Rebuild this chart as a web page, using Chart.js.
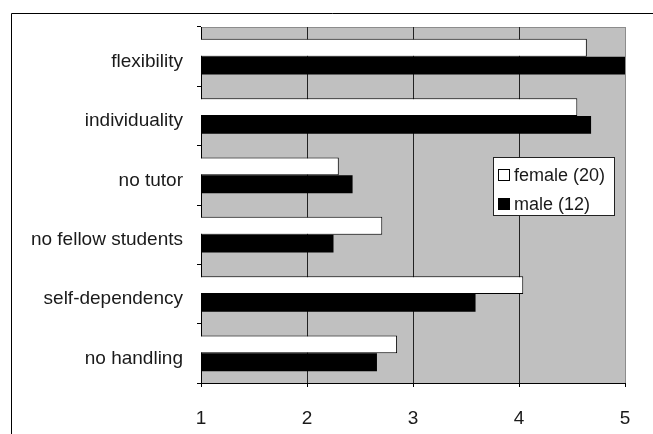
<!DOCTYPE html>
<html>
<head>
<meta charset="utf-8">
<script src="https://cdn.jsdelivr.net/npm/chart.js@4/dist/chart.umd.min.js"></script>
<style>
  html, body { margin: 0; padding: 0; background: #fff; }
  canvas { display: block; }
</style>
</head>
<body>
<canvas id="c" width="653" height="434"></canvas>
<script>
// Mean ratings per aspect, split by gender
const categories = ['flexibility', 'individuality', 'no tutor', 'no fellow students', 'self-dependency', 'no handling'];
const female = [4.64, 4.55, 2.30, 2.71, 4.04, 2.85];
const male = [5.00, 4.68, 2.43, 2.25, 3.59, 2.66];
const seriesLabels = ['female (20)', 'male (12)'];
const xTicks = [1, 2, 3, 4, 5];

const FONT = '"Liberation Sans", Arial, sans-serif';
const TEXT = '#1a1a1a';

// Grey plot background, thin grey top/right edge and the outer frame
const backdrop = {
  id: 'backdrop',
  beforeDraw(chart) {
    const { ctx, chartArea: a } = chart;
    ctx.save();
    ctx.fillStyle = '#c0c0c0';
    ctx.fillRect(a.left, a.top, a.right - a.left, a.bottom - a.top);
    ctx.strokeStyle = '#8c8c8c';
    ctx.lineWidth = 1;
    ctx.beginPath();
    ctx.moveTo(a.left, a.top + 0.5);
    ctx.lineTo(a.right + 0.5, a.top + 0.5);
    ctx.lineTo(a.right + 0.5, a.bottom);
    ctx.stroke();
    ctx.strokeStyle = '#000';
    ctx.beginPath();
    ctx.moveTo(11.5, chart.height);
    ctx.lineTo(11.5, 13.5);
    ctx.lineTo(chart.width, 13.5);
    ctx.stroke();
    ctx.restore();
  }
};

// Boxed legend sitting inside the plot
const boxLegend = {
  id: 'boxLegend',
  afterDraw(chart) {
    const { ctx } = chart;
    const x = 493, y = 157, w = 121, h = 58;
    ctx.save();
    ctx.fillStyle = '#fff';
    ctx.fillRect(x, y, w, h);
    ctx.strokeStyle = '#222';
    ctx.lineWidth = 1;
    ctx.strokeRect(x + 0.5, y + 0.5, w, h);
    ctx.font = '18px ' + FONT;
    ctx.textBaseline = 'middle';
    chart.data.datasets.forEach((ds, i) => {
      const cy = y + 18 + i * 29;
      ctx.fillStyle = ds.backgroundColor;
      ctx.fillRect(498, cy - 6, 12, 12);
      ctx.strokeStyle = '#000';
      ctx.strokeRect(498.5, cy - 5.5, 11, 11);
      ctx.fillStyle = TEXT;
      ctx.fillText(ds.label, 514, cy + 1);
    });
    ctx.restore();
  }
};

new Chart(document.getElementById('c'), {
  type: 'bar',
  data: {
    labels: categories,
    datasets: [
      { label: seriesLabels[0], data: female, backgroundColor: '#ffffff', borderColor: '#000', borderWidth: 1 },
      { label: seriesLabels[1], data: male, backgroundColor: '#000000', borderColor: '#000', borderWidth: 0 }
    ]
  },
  options: {
    indexAxis: 'y',
    responsive: false,
    animation: false,
    categoryPercentage: 0.6,
    barPercentage: 1,
    layout: { padding: { top: 27, right: 28, left: 0, bottom: 0 } },
    plugins: { legend: { display: false }, tooltip: { enabled: false } },
    scales: {
      x: {
        min: xTicks[0],
        max: xTicks[xTicks.length - 1],
        afterBuildTicks(s) { s.ticks = xTicks.map(v => ({ value: v })); },
        ticks: { font: { family: FONT, size: 19 }, color: TEXT, padding: 20 },
        grid: {
          color: c => (c.tick && c.tick.value === 5 ? '#8c8c8c' : '#222'),
          tickColor: '#000',
          tickLength: 4,
          lineWidth: 1
        },
        border: { color: '#000' },
        afterFit(s) { s.height = 51; }
      },
      y: {
        ticks: { font: { family: FONT, size: 19 }, color: TEXT, padding: 14, labelOffset: 5 },
        grid: { drawOnChartArea: false, tickLength: 4, color: '#000', offset: true },
        border: { color: '#000' },
        afterFit(s) { s.width = 201; }
      }
    }
  },
  plugins: [backdrop, boxLegend]
});
</script>
</body>
</html>
